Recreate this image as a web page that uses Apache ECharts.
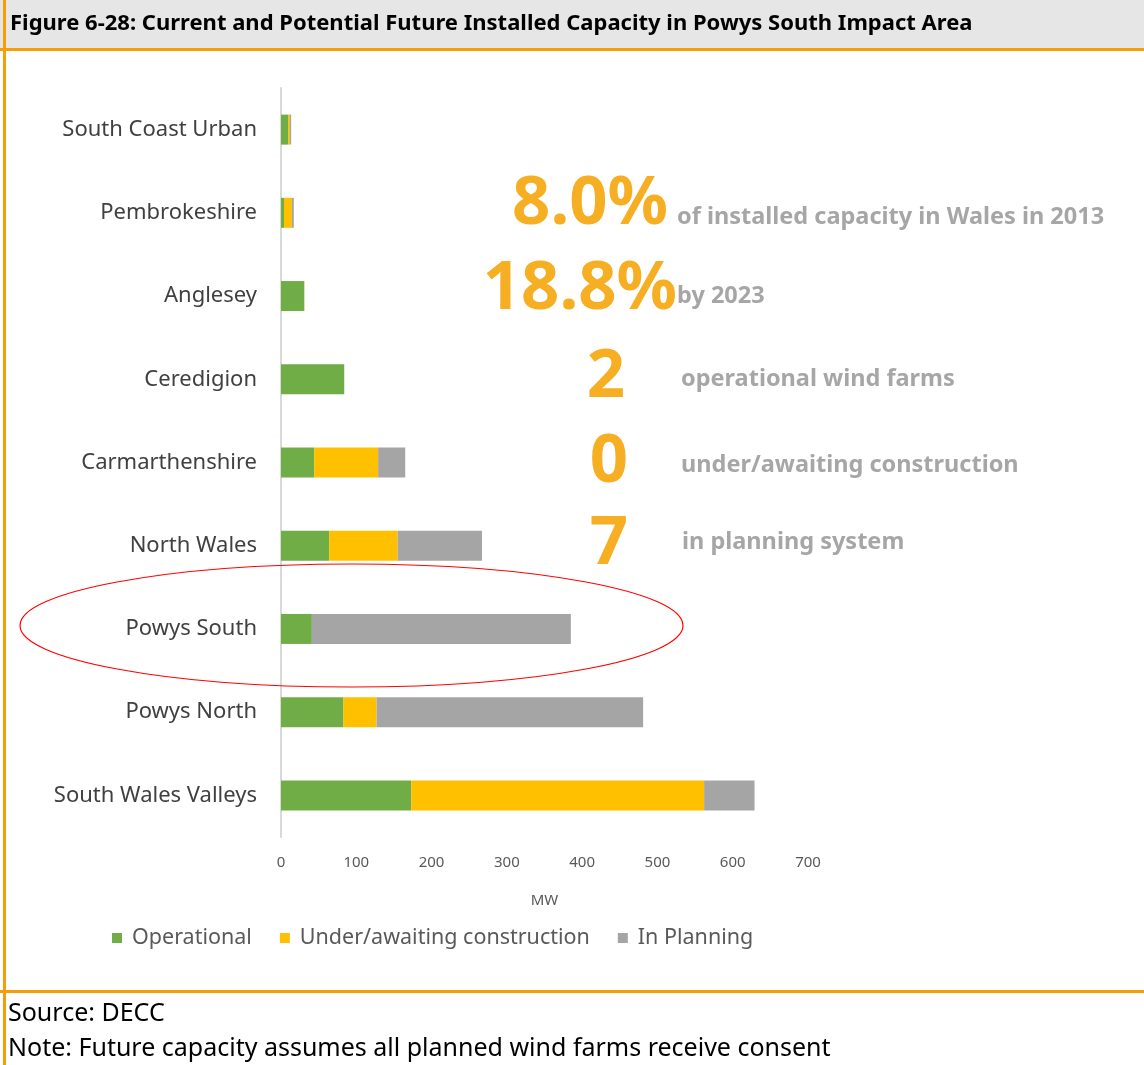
<!DOCTYPE html>
<html>
<head>
<meta charset="utf-8">
<title>Installed Capacity – Powys South Impact Area</title>
<script src="https://cdn.jsdelivr.net/npm/echarts@6/dist/echarts.min.js"></script>
<style>
  html, body { margin: 0; padding: 0; background: #ffffff; }
  #chart { width: 1144px; height: 1065px; }
</style>
</head>
<body>
<div id="chart"></div>
<script>
// Impact areas, listed bottom-to-top as they appear on the category axis
const areas = ['South Wales Valleys', 'Powys North', 'Powys South', 'North Wales',
  'Carmarthenshire', 'Ceredigion', 'Anglesey', 'Pembrokeshire', 'South Coast Urban'];

// Capacity in MW per area
const operational = [173, 83, 41, 64, 44, 84, 31, 4, 10];
const underConstruction = [389, 44, 0, 91, 85, 0, 0, 10.5, 2];
const inPlanning = [67, 354, 344, 112, 36, 0, 0, 2.5, 1.5];

const seriesNames = ['Operational', 'Under/awaiting construction', 'In Planning'];
const seriesColors = ['#70ad47', '#ffc000', '#a5a5a5'];

// Headline figures for the Powys South area
const headlineNumbers = ['8.0%', '18.8%', '2', '0', '7'];
const headlineTexts = ['of installed capacity in Wales in 2013', 'by 2023',
  'operational wind farms', 'under/awaiting construction', 'in planning system'];

const titleText = 'Figure 6-28: Current and Potential Future Installed Capacity in Powys South Impact Area';
const sourceText = 'Source: DECC';
const noteText = 'Note: Future capacity assumes all planned wind farms receive consent';

const FONT = '"Noto Sans", "Open Sans", sans-serif';
const ORANGE = '#f99d06';

const chart = echarts.init(document.getElementById('chart'), null, { renderer: 'canvas' });

// Placement of the headline block: number anchor and the caption beside it
const numberSpots = [
  { x: 668, y: 205, align: 'right', tx: 677, ty: 217 },
  { x: 677, y: 290, align: 'right', tx: 677, ty: 296 },
  { x: 606, y: 378, align: 'center', tx: 681, ty: 379 },
  { x: 609, y: 463, align: 'center', tx: 681, ty: 465 },
  { x: 609, y: 545, align: 'center', tx: 682, ty: 542 }
];

const headlineGraphics = [];
headlineNumbers.forEach((num, i) => {
  const s = numberSpots[i];
  headlineGraphics.push({
    type: 'text', z: 10,
    style: {
      x: s.x, y: s.y, text: num, align: s.align, verticalAlign: 'middle',
      font: 'bold 67px ' + FONT, fill: '#f6ae22'
    }
  });
  headlineGraphics.push({
    type: 'text', z: 10,
    style: {
      x: s.tx, y: s.ty, text: headlineTexts[i], align: 'left', verticalAlign: 'middle',
      font: 'bold 23.5px ' + FONT, fill: '#a6a6a6'
    }
  });
});

const option = {
  animation: false,
  backgroundColor: '#ffffff',
  grid: { left: 281, right: 336, top: 88, bottom: 228, containLabel: false },
  xAxis: {
    type: 'value', min: 0, max: 700, interval: 100,
    name: 'MW', nameLocation: 'middle', nameGap: 56,
    nameTextStyle: { color: '#595959', fontSize: 15, fontFamily: FONT },
    axisLine: { show: false }, axisTick: { show: false },
    splitLine: { show: false },
    axisLabel: { color: '#595959', fontSize: 15, fontFamily: FONT, margin: 18 }
  },
  yAxis: {
    type: 'category', data: areas,
    axisLine: { show: true, lineStyle: { color: '#d9d9d9', width: 2 } },
    axisTick: { show: false },
    axisLabel: { color: '#404040', fontSize: 22, fontFamily: FONT, margin: 24 }
  },
  legend: {
    left: 107, top: 922, itemWidth: 10, itemHeight: 10, itemGap: 28, icon: 'rect',
    textStyle: { color: '#595959', fontSize: 21.5, fontFamily: FONT, padding: [0, 0, 0, 5] },
    data: seriesNames
  },
  series: [operational, underConstruction, inPlanning].map((vals, i) => ({
    name: seriesNames[i], type: 'bar', stack: 'total', barWidth: 30,
    itemStyle: { color: seriesColors[i] },
    data: vals
  })),
  graphic: [
    // title band and orange frame
    { type: 'rect', z: 0, shape: { x: 0, y: 0, width: 1144, height: 48 }, style: { fill: '#e6e6e6' } },
    { type: 'rect', z: 1, shape: { x: 0, y: 48, width: 1144, height: 3 }, style: { fill: ORANGE } },
    { type: 'rect', z: 1, shape: { x: 0, y: 990, width: 1144, height: 3 }, style: { fill: ORANGE } },
    { type: 'rect', z: 1, shape: { x: 3, y: 0, width: 3, height: 1065 }, style: { fill: ORANGE } },
    {
      type: 'text', z: 2,
      style: { x: 10, y: 24, text: titleText, verticalAlign: 'middle', font: 'bold 22px ' + FONT, fill: '#000000' }
    },
    {
      type: 'text', z: 2,
      style: { x: 8, y: 1014, text: sourceText, verticalAlign: 'middle', font: '25px ' + FONT, fill: '#000000' }
    },
    {
      type: 'text', z: 2,
      style: { x: 8, y: 1049, text: noteText, verticalAlign: 'middle', font: '25px ' + FONT, fill: '#000000' }
    },
    // highlight around the Powys South row
    {
      type: 'ellipse', z: 20, silent: true,
      shape: { cx: 351.5, cy: 625.5, rx: 331.5, ry: 61.5 },
      style: { fill: 'none', stroke: '#ff0000', lineWidth: 1.2 }
    }
  ].concat(headlineGraphics)
};

chart.setOption(option);
</script>
</body>
</html>
